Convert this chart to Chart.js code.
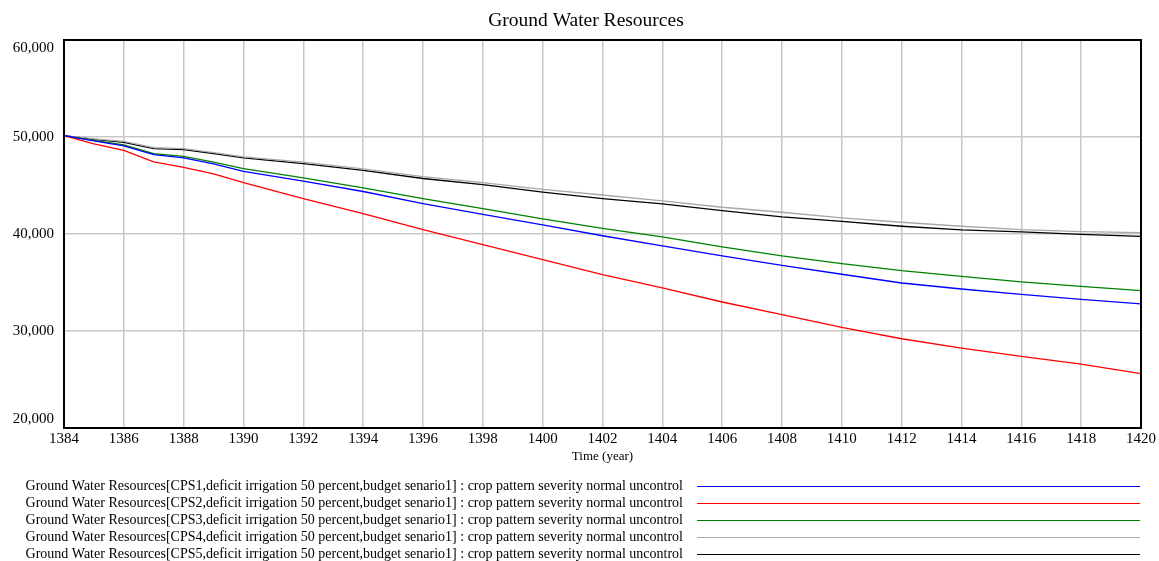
<!DOCTYPE html>
<html>
<head>
<meta charset="utf-8">
<script src="https://cdn.jsdelivr.net/npm/chart.js@4"></script>
<style>
  html, body { margin: 0; padding: 0; background: #fff; }
  #wrap { width: 1159px; height: 561px; }
</style>
</head>
<body>
<div id="wrap"><canvas id="gwChart" width="1159" height="561"></canvas></div>
<script>
// years
const years = [1384, 1385, 1386, 1387, 1388, 1389, 1390, 1392, 1394, 1396, 1398, 1400, 1402, 1404, 1406, 1408, 1410, 1412, 1414, 1416, 1418, 1420];
const cps1 = [50150, 49600, 49080, 48190, 47850, 47230, 46450, 45440, 44380, 43140, 42030, 40940, 39820, 38770, 37740, 36770, 35850, 34950, 34330, 33780, 33260, 32790];
const cps2 = [50150, 49300, 48630, 47430, 46880, 46200, 45300, 43650, 42100, 40450, 38900, 37360, 35800, 34440, 32990, 31680, 30370, 29200, 28240, 27380, 26590, 25600];
const cps3 = [50150, 49650, 49180, 48290, 48010, 47400, 46750, 45790, 44760, 43650, 42620, 41550, 40580, 39700, 38670, 37740, 36950, 36220, 35630, 35060, 34600, 34160];
const cps4 = [50150, 49800, 49550, 48900, 48800, 48400, 47950, 47400, 46720, 45920, 45300, 44610, 44020, 43420, 42760, 42240, 41660, 41210, 40800, 40450, 40250, 40140];
const cps5 = [50150, 49750, 49450, 48800, 48700, 48300, 47850, 47250, 46570, 45720, 45100, 44310, 43650, 43110, 42420, 41760, 41310, 40800, 40420, 40220, 39970, 39750];
const yTicks = [20000, 30000, 40000, 50000, 60000];
const seriesLabels = [
    'Ground Water Resources[CPS1,deficit irrigation 50 percent,budget senario1] : crop pattern severity normal uncontrol',
    'Ground Water Resources[CPS2,deficit irrigation 50 percent,budget senario1] : crop pattern severity normal uncontrol',
    'Ground Water Resources[CPS3,deficit irrigation 50 percent,budget senario1] : crop pattern severity normal uncontrol',
    'Ground Water Resources[CPS4,deficit irrigation 50 percent,budget senario1] : crop pattern severity normal uncontrol',
    'Ground Water Resources[CPS5,deficit irrigation 50 percent,budget senario1] : crop pattern severity normal uncontrol'
];
const seriesColors = ['#0000ff', '#ff0000', '#008000', '#a8a8a8', '#000000'];
const allSeries = [cps1, cps2, cps3, cps4, cps5];

const serif = '"Liberation Serif", "DejaVu Serif", serif';

function toPoints(vals) {
    return years.map((yr, i) => ({ x: yr, y: vals[i] }));
}

// title, frame, y labels and the legend at the bottom
const extras = {
    id: 'extras',
    afterDraw(chart) {
        const c = chart.ctx;
        const a = chart.chartArea;
        const ys = chart.scales.y;
        c.save();
        // frame round the plot
        c.strokeStyle = '#000';
        c.lineWidth = 2;
        c.strokeRect(a.left, a.top, a.right - a.left, a.bottom - a.top);

        c.fillStyle = '#000';
        c.textAlign = 'center';
        c.textBaseline = 'alphabetic';
        c.font = '19.5px ' + serif;
        c.fillText('Ground Water Resources', 586, 26);

        c.textBaseline = 'middle';
        c.font = '13px ' + serif;
        c.fillText('Time (year)', (a.left + a.right) / 2, 457);

        // y labels, kept inside the plot height like the original
        c.textAlign = 'right';
        c.font = '15px ' + serif;
        yTicks.forEach(v => {
            let y = ys.getPixelForValue(v);
            y = Math.min(Math.max(y, a.top + 8), a.bottom - 9);
            c.fillText(v.toLocaleString('en-US'), 54, y);
        });

        // legend
        c.font = '14px ' + serif;
        chart.data.datasets.forEach((ds, i) => {
            const y = 486 + i * 17;
            c.fillStyle = '#000';
            c.fillText(ds.label, 683, y);
            c.strokeStyle = ds.borderColor;
            c.lineWidth = 1;
            c.beginPath();
            c.moveTo(697, y + 0.5);
            c.lineTo(1140, y + 0.5);
            c.stroke();
        });
        c.restore();
    }
};

const ctx = document.getElementById('gwChart').getContext('2d');
const chart = new Chart(ctx, {
    type: 'line',
    data: {
        datasets: allSeries.map((vals, i) => ({
            label: seriesLabels[i],
            data: toPoints(vals),
            borderColor: seriesColors[i],
            backgroundColor: seriesColors[i],
            borderWidth: 1.3,
            pointRadius: 0,
            tension: 0,
            fill: false
        }))
    },
    options: {
        responsive: false,
        animation: false,
        layout: { padding: { top: 40, right: 18, left: 0, bottom: 0 } },
        plugins: {
            legend: { display: false },
            title: { display: false },
            tooltip: { enabled: false }
        },
        scales: {
            x: {
                type: 'linear',
                min: 1384,
                max: 1420,
                afterFit: (s) => { s.height = 133; },
                ticks: {
                    stepSize: 2,
                    color: '#000',
                    padding: 2,
                    maxRotation: 0,
                    font: { family: serif, size: 15 },
                    callback: (v) => String(v)
                },
                grid: { color: '#c8c8c8', lineWidth: 1.5, drawTicks: false },
                border: { color: '#000', width: 2 }
            },
            y: {
                min: 20000,
                max: 60000,
                afterFit: (s) => { s.width = 64; },
                ticks: {
                    stepSize: 10000,
                    display: false
                },
                grid: { color: '#c8c8c8', lineWidth: 1.5, drawTicks: false },
                border: { color: '#000', width: 2 }
            }
        }
    },
    plugins: [extras]
});
</script>
</body>
</html>
